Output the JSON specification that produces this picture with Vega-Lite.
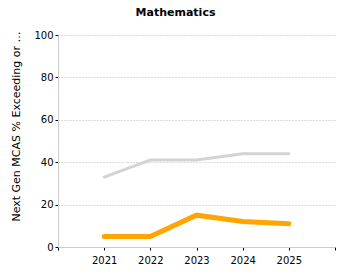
{
  "$schema": "https://vega.github.io/schema/vega-lite/v6.json",
  "autosize": "none",
  "width": 277,
  "height": 212,
  "padding": {"left": 58, "top": 35, "right": 15, "bottom": 33},
  "background": "white",
  "title": {"text": "Mathematics", "font": "DejaVu Sans", "fontSize": 11, "fontWeight": "bold", "color": "black", "anchor": "middle", "dx": -21, "offset": 12},
  "data": {"values": [
    {"year": 2021, "group": "State", "value": 33},
    {"year": 2022, "group": "State", "value": 41},
    {"year": 2023, "group": "State", "value": 41},
    {"year": 2024, "group": "State", "value": 44},
    {"year": 2025, "group": "State", "value": 44},
    {"year": 2021, "group": "School", "value": 5},
    {"year": 2022, "group": "School", "value": 5},
    {"year": 2023, "group": "School", "value": 15},
    {"year": 2024, "group": "School", "value": 12},
    {"year": 2025, "group": "School", "value": 11}
  ]},
  "config": {
    "view": {"stroke": null},
    "axis": {"labelFont": "DejaVu Sans", "labelFontSize": 10, "labelColor": "black", "titleFont": "DejaVu Sans", "titleFontSize": 11, "titleFontWeight": "normal", "titleColor": "black", "domainColor": "#cccccc", "tickColor": "black", "tickSize": 3}
  },
  "encoding": {
    "x": {"field": "year", "type": "quantitative", "scale": {"domain": [2020, 2026], "nice": false, "zero": false},
      "axis": {"title": null, "values": [2020, 2021, 2022, 2023, 2024, 2025, 2026], "labelExpr": "datum.value == 2020 || datum.value == 2026 ? '' : datum.value", "grid": false, "labelPadding": 5}},
    "y": {"field": "value", "type": "quantitative", "scale": {"domain": [0, 100], "nice": false},
      "axis": {"title": "Next Gen MCAS % Exceeding or Meeting Expectations", "titleLimit": 196, "titleX": -37, "titleY": 91, "titleAngle": -90, "titleAlign": "center", "titleBaseline": "bottom", "values": [0, 20, 40, 60, 80, 100], "grid": true, "gridColor": "#bbbbbb", "gridDash": [1, 2], "gridWidth": 1, "labelPadding": 2}}
  },
  "layer": [
    {"transform": [{"filter": "datum.group == 'State'"}], "mark": {"type": "line", "color": "#d3d3d3", "strokeWidth": 3, "strokeCap": "round"}},
    {"transform": [{"filter": "datum.group == 'School'"}], "mark": {"type": "line", "color": "#ffa500", "strokeWidth": 5, "strokeCap": "round"}}
  ]
}
